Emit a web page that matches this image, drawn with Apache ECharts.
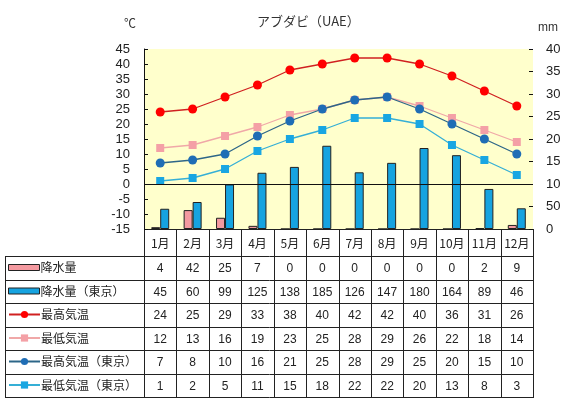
<!DOCTYPE html>
<html>
<head>
<meta charset="utf-8">
<script src="https://cdn.jsdelivr.net/npm/echarts@6/dist/echarts.min.js"></script>
<style>
  html, body { margin: 0; padding: 0; background: #fff; }
  #chart { width: 561px; height: 401px; }
</style>
</head>
<body>
<div id="chart"></div>
<script>
// data
var months = ['1月', '2月', '3月', '4月', '5月', '6月', '7月', '8月', '9月', '10月', '11月', '12月'];
var rainAbuDhabi = [4, 42, 25, 7, 0, 0, 0, 0, 0, 0, 2, 9];
var rainTokyo = [45, 60, 99, 125, 138, 185, 126, 147, 180, 164, 89, 46];
var maxAbuDhabi = [24, 25, 29, 33, 38, 40, 42, 42, 40, 36, 31, 26];
var minAbuDhabi = [12, 13, 16, 19, 23, 25, 28, 29, 26, 22, 18, 14];
var maxTokyo = [7, 8, 10, 16, 21, 25, 28, 29, 25, 20, 15, 10];
var minTokyo = [1, 2, 5, 11, 15, 18, 22, 22, 20, 13, 8, 3];
var seriesNames = ['降水量', '降水量（東京）', '最高気温', '最低気温', '最高気温（東京）', '最低気温（東京）'];
var tableRows = [rainAbuDhabi, rainTokyo, maxAbuDhabi, minAbuDhabi, maxTokyo, minTokyo];

// layout
var plotL = 144, plotR = 533, plotT = 49, plotB = 229;
var tableL = 5, tableT = 256, rowH = 23.5;
var colW = (plotR - plotL) / months.length;
var jpFont = '"Noto Sans CJK JP", sans-serif';
var numFont = '12px "Liberation Sans", Arial, sans-serif';

var chart = echarts.init(document.getElementById('chart'));

function crisp(v) { return Math.round(v) + 0.5; }

var graphics = [];
function hline(y, x1, x2) {
  graphics.push({ type: 'line', silent: true, shape: { x1: x1, y1: crisp(y), x2: x2, y2: crisp(y) },
    style: { stroke: '#222', lineWidth: 1 } });
}
function vline(x, y1, y2) {
  graphics.push({ type: 'line', silent: true, shape: { x1: crisp(x), y1: y1, x2: crisp(x), y2: y2 },
    style: { stroke: '#222', lineWidth: 1 } });
}

var tableB = tableT + rowH * tableRows.length;
hline(plotB, plotL, plotR + 1);
for (var r = 0; r <= tableRows.length; r++) hline(tableT + r * rowH, tableL, plotR + 1);
vline(tableL, tableT, tableB);
for (var c = 0; c <= months.length; c++) vline(plotL + c * colW, plotB, tableB);

// table values
tableRows.forEach(function (row, r) {
  row.forEach(function (v, c) {
    graphics.push({
      type: 'text', silent: true,
      x: plotL + (c + 0.5) * colW, y: tableT + (r + 0.5) * rowH + 1,
      style: { text: String(v), font: numFont, fill: '#222', align: 'center', verticalAlign: 'middle' }
    });
  });
});

// axis unit labels
graphics.push({ type: 'text', silent: true, x: 130, y: 23,
  style: { text: '℃', font: '12px ' + jpFont, fill: '#333', align: 'center', verticalAlign: 'middle' } });
graphics.push({ type: 'text', silent: true, x: 538, y: 28,
  style: { text: 'mm', font: '12px "Liberation Sans", Arial, sans-serif', fill: '#333', align: 'left', verticalAlign: 'middle' } });

var legends = seriesNames.map(function (name, i) {
  var isBar = i < 2;
  var lg = {
    data: [name],
    orient: 'horizontal',
    left: 8,
    top: tableT + i * rowH + 4.5,
    itemWidth: 31,
    itemHeight: isBar ? 6 : 9,
    selectedMode: false,
    padding: 0,
    textStyle: { fontSize: 12, fontFamily: jpFont, color: '#222', lineHeight: 14, padding: [0, 0, 0, -4] }
  };
  if (isBar) {
    lg.icon = 'rect';
    lg.itemStyle = { borderWidth: 1, borderColor: '#222' };
  }
  return lg;
});

var option = {
  animation: false,
  backgroundColor: '#fff',
  title: {
    text: 'アブダビ（UAE）',
    left: 252, top: 10,
    textStyle: { fontSize: 13, fontWeight: 'normal', fontFamily: jpFont, color: '#333' }
  },
  legend: legends,
  grid: {
    left: plotL, right: 561 - plotR, top: plotT, bottom: 401 - plotB,
    outerBoundsMode: 'none', containLabel: false,
    show: true, backgroundColor: '#FFFFCC', borderWidth: 0
  },
  xAxis: {
    type: 'category',
    data: months,
    axisLine: { show: false, onZero: false },
    axisTick: { show: false },
    axisLabel: { interval: 0, margin: 8, fontSize: 12, fontFamily: jpFont, color: '#222' },
    splitLine: { show: false }
  },
  yAxis: [
    {
      type: 'value', min: -15, max: 45, interval: 5, position: 'left',
      axisLine: { show: true, lineStyle: { color: '#111', width: 1 } },
      axisTick: { show: true, inside: true, length: 4, lineStyle: { color: '#111' } },
      axisLabel: { margin: 14, fontSize: 13, fontFamily: '"Liberation Sans", Arial, sans-serif', color: '#222' },
      splitLine: { show: false }
    },
    {
      type: 'value', min: 0, max: 400, interval: 50, position: 'right',
      axisLine: { show: false },
      axisTick: { show: true, inside: true, length: 4, lineStyle: { color: '#111' } },
      axisLabel: { margin: 13, fontSize: 13, fontFamily: '"Liberation Sans", Arial, sans-serif', color: '#222' },
      splitLine: { show: false }
    }
  ],
  series: [
    {
      name: seriesNames[0], type: 'bar', yAxisIndex: 1, data: rainAbuDhabi,
      barWidth: 9, barGap: '0%',
      itemStyle: { color: '#F49AA0', borderColor: '#222', borderWidth: 1 }
    },
    {
      name: seriesNames[1], type: 'bar', yAxisIndex: 1, data: rainTokyo,
      barWidth: 9, barGap: '0%',
      itemStyle: { color: '#16A3E0', borderColor: '#222', borderWidth: 1 }
    },
    {
      name: seriesNames[2], type: 'line', yAxisIndex: 0, data: maxAbuDhabi,
      symbol: 'circle', symbolSize: 9,
      lineStyle: { color: '#D02020', width: 1.3 },
      itemStyle: { color: '#FF0000' },
      markLine: {
        silent: true, symbol: 'none', label: { show: false },
        lineStyle: { color: '#111', width: 1, type: 'solid' },
        data: [{ yAxis: 0 }]
      }
    },
    {
      name: seriesNames[3], type: 'line', yAxisIndex: 0, data: minAbuDhabi,
      symbol: 'rect', symbolSize: 8,
      lineStyle: { color: '#F0A8A8', width: 1.3 },
      itemStyle: { color: '#F4A0A6' }
    },
    {
      name: seriesNames[4], type: 'line', yAxisIndex: 0, data: maxTokyo,
      symbol: 'circle', symbolSize: 9,
      lineStyle: { color: '#2D6688', width: 1.3 },
      itemStyle: { color: '#1F6DB5' }
    },
    {
      name: seriesNames[5], type: 'line', yAxisIndex: 0, data: minTokyo,
      symbol: 'rect', symbolSize: 8,
      lineStyle: { color: '#35AFD6', width: 1.3 },
      itemStyle: { color: '#19A6E2' }
    }
  ],
  graphic: graphics
};

chart.setOption(option);
</script>
</body>
</html>
